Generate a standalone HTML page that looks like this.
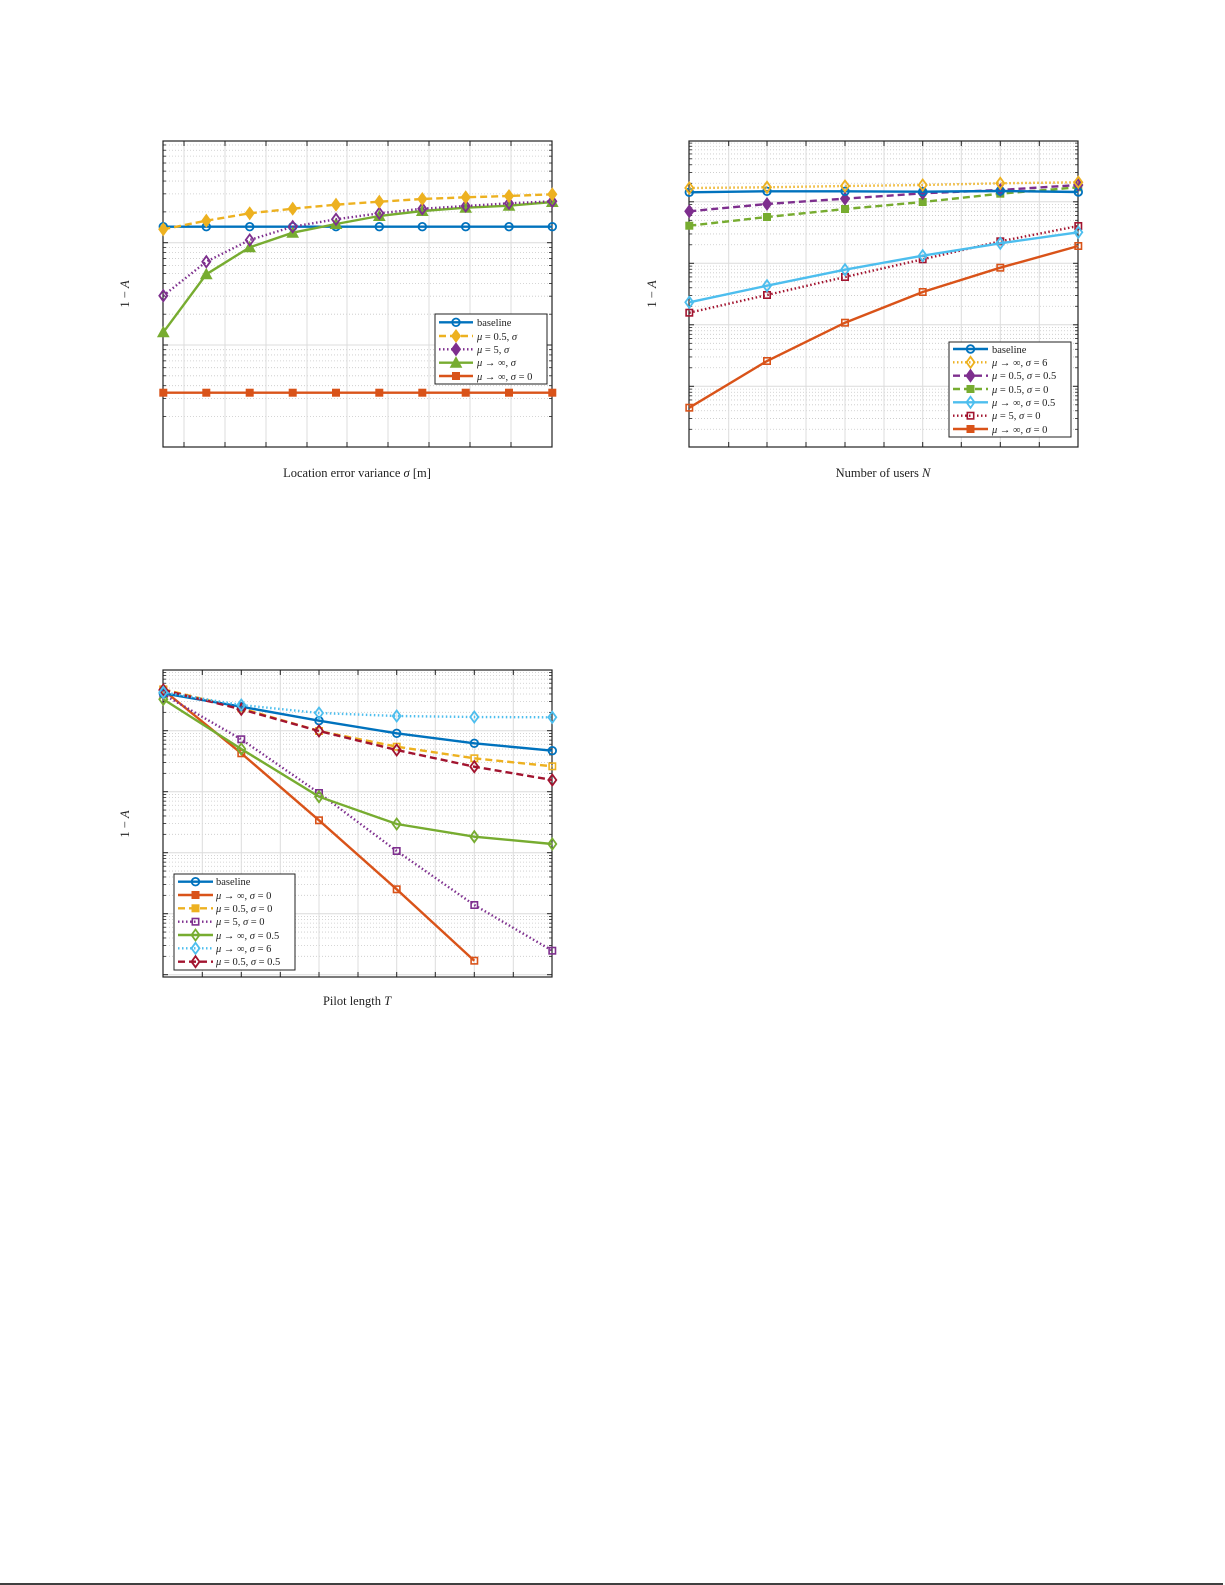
<!DOCTYPE html>
<html><head><meta charset="utf-8"><style>
html,body{margin:0;padding:0;background:#fff;width:1225px;height:1585px;overflow:hidden}
svg{position:absolute;left:0;top:0}
text{font-family:"Liberation Serif",serif;fill:#222}
.lg{font-size:10.5px}
.ax{font-size:12.5px}
</style></head><body>
<svg id="s" width="1225" height="1585" viewBox="0 0 1225 1585">
<g id="grid"></g>
<g id="ser"></g>
<g id="leg"></g>
<line x1="0" y1="1584" x2="1223" y2="1584" stroke="#000" stroke-width="1.5"/>
<text class="ax" x="357" y="477" text-anchor="middle">Location error variance <tspan font-style="italic">σ</tspan> [m]</text>
<text class="ax" x="883" y="477" text-anchor="middle">Number of users <tspan font-style="italic">N</tspan></text>
<text class="ax" x="357" y="1005" text-anchor="middle">Pilot length <tspan font-style="italic">T</tspan></text>
<text class="ax" transform="translate(129,294) rotate(-90)" text-anchor="middle">1 − <tspan font-style="italic">A</tspan></text>
<text class="ax" transform="translate(656,294) rotate(-90)" text-anchor="middle">1 − <tspan font-style="italic">A</tspan></text>
<text class="ax" transform="translate(129,824) rotate(-90)" text-anchor="middle">1 − <tspan font-style="italic">A</tspan></text>
<text class="lg" x="477" y="326">baseline</text>
<text class="lg" x="477" y="340"><tspan font-style="italic">μ</tspan> = 0.5, <tspan font-style="italic">σ</tspan></text>
<text class="lg" x="477" y="353"><tspan font-style="italic">μ</tspan> = 5, <tspan font-style="italic">σ</tspan></text>
<text class="lg" x="477" y="366"><tspan font-style="italic">μ</tspan> → ∞, <tspan font-style="italic">σ</tspan></text>
<text class="lg" x="477" y="380"><tspan font-style="italic">μ</tspan> → ∞, <tspan font-style="italic">σ</tspan> = 0</text>

<text class="lg" x="992" y="353">baseline</text>
<text class="lg" x="992" y="366"><tspan font-style="italic">μ</tspan> → ∞, <tspan font-style="italic">σ</tspan> = 6</text>
<text class="lg" x="992" y="379"><tspan font-style="italic">μ</tspan> = 0.5, <tspan font-style="italic">σ</tspan> = 0.5</text>
<text class="lg" x="992" y="393"><tspan font-style="italic">μ</tspan> = 0.5, <tspan font-style="italic">σ</tspan> = 0</text>
<text class="lg" x="992" y="406"><tspan font-style="italic">μ</tspan> → ∞, <tspan font-style="italic">σ</tspan> = 0.5</text>
<text class="lg" x="992" y="419"><tspan font-style="italic">μ</tspan> = 5, <tspan font-style="italic">σ</tspan> = 0</text>
<text class="lg" x="992" y="433"><tspan font-style="italic">μ</tspan> → ∞, <tspan font-style="italic">σ</tspan> = 0</text>

<text class="lg" x="216" y="885">baseline</text>
<text class="lg" x="216" y="899"><tspan font-style="italic">μ</tspan> → ∞, <tspan font-style="italic">σ</tspan> = 0</text>
<text class="lg" x="216" y="912"><tspan font-style="italic">μ</tspan> = 0.5, <tspan font-style="italic">σ</tspan> = 0</text>
<text class="lg" x="216" y="925"><tspan font-style="italic">μ</tspan> = 5, <tspan font-style="italic">σ</tspan> = 0</text>
<text class="lg" x="216" y="939"><tspan font-style="italic">μ</tspan> → ∞, <tspan font-style="italic">σ</tspan> = 0.5</text>
<text class="lg" x="216" y="952"><tspan font-style="italic">μ</tspan> → ∞, <tspan font-style="italic">σ</tspan> = 6</text>
<text class="lg" x="216" y="965"><tspan font-style="italic">μ</tspan> = 0.5, <tspan font-style="italic">σ</tspan> = 0.5</text>
</svg>
<script>
const NS="http://www.w3.org/2000/svg";
const G=document.getElementById('grid'),S=document.getElementById('ser'),L=document.getElementById('leg');
function el(p,t,a){const e=document.createElementNS(NS,t);for(const k in a)e.setAttribute(k,a[k]);p.appendChild(e);return e;}
const C={b:"#0072BD",o:"#D95319",y:"#EDB120",p:"#7E2F8E",g:"#77AC30",c:"#4DBEEE",r:"#A2142F"};
function axes(x0,x1,y0,y1,vx,decs){
  el(G,'rect',{x:x0,y:y0,width:x1-x0,height:y1-y0,fill:'#fff'});
  for(let i=0;i<decs.length-1;i++){const a=decs[i],b=decs[i+1];
    for(let m=2;m<=9;m++){const y=b-(b-a)*Math.log10(m);
      if(y<y0||y>y1)continue;
      el(G,'line',{x1:x0,x2:x1,y1:y,y2:y,stroke:'#c8c8c8','stroke-width':0.8,'stroke-dasharray':'1,2'});
      el(G,'line',{x1:x0,x2:x0+3,y1:y,y2:y,stroke:'#222','stroke-width':0.8});
      el(G,'line',{x1:x1-3,x2:x1,y1:y,y2:y,stroke:'#222','stroke-width':0.8});}}
  for(const y of decs){if(y<=y0+1||y>=y1-1)continue;
    el(G,'line',{x1:x0,x2:x1,y1:y,y2:y,stroke:'#dcdcdc','stroke-width':1});
    el(G,'line',{x1:x0,x2:x0+5,y1:y,y2:y,stroke:'#222','stroke-width':1});
    el(G,'line',{x1:x1-5,x2:x1,y1:y,y2:y,stroke:'#222','stroke-width':1});}
  for(const x of vx){el(G,'line',{x1:x,x2:x,y1:y0,y2:y1,stroke:'#dcdcdc','stroke-width':1});
    el(G,'line',{x1:x,x2:x,y1:y1-5,y2:y1,stroke:'#222','stroke-width':1});
    el(G,'line',{x1:x,x2:x,y1:y0,y2:y0+5,stroke:'#222','stroke-width':1});}
  el(G,'rect',{x:x0,y:y0,width:x1-x0,height:y1-y0,fill:'none',stroke:'#222','stroke-width':1.2});
}
function mark(p,m,x,y,c,fill){
  if(m=='o')el(p,'circle',{cx:x,cy:y,r:3.8,fill:'none',stroke:c,'stroke-width':1.8});
  else if(m=='d')el(p,'polygon',{points:`${x},${y-5.5} ${x+4},${y} ${x},${y+5.5} ${x-4},${y}`,fill:fill?c:'none',stroke:c,'stroke-width':1.8});
  else if(m=='s')el(p,'rect',{x:x-3.2,y:y-3.2,width:6.4,height:6.4,fill:fill?c:'none',stroke:c,'stroke-width':1.6});
  else if(m=='t')el(p,'polygon',{points:`${x},${y-5.5} ${x+5.5},${y+4.5} ${x-5.5},${y+4.5}`,fill:c,stroke:c,'stroke-width':1});
}
const DA={'-':'', '--':'7,4', ':':'1.5,2.5'};
function series(xs,ys,c,ls,m,fill,w){
  const pts=ys.map((y,i)=>xs[i]+','+y).join(' ');
  const a={points:pts,fill:'none',stroke:c,'stroke-width':w||2.4};
  if(DA[ls])a['stroke-dasharray']=DA[ls];
  el(S,'polyline',a);
  ys.forEach((y,i)=>mark(S,m,xs[i],y,c,fill));
}
function legend(x0,y0,x1,y1,lx0,lx1,rows){
  el(L,'rect',{x:x0,y:y0,width:x1-x0,height:y1-y0,fill:'#fff',stroke:'#222','stroke-width':1});
  for(const r of rows){const a={x1:lx0,x2:lx1,y1:r[0],y2:r[0],stroke:r[1],'stroke-width':2.4};
    if(DA[r[2]])a['stroke-dasharray']=DA[r[2]];el(L,'line',a);mark(L,r[3],(lx0+lx1)/2,r[0],r[1],r[4]);}
}
axes(163,552,141,447,[184,225,266,307,347,388,429,470,511],[38,140.3,242.7,345,447.3]);
const x1=[163.3,206.3,249.7,292.7,336,379.3,422.3,465.7,509,552.3];
series(x1,Array(10).fill(392.7),C.o,'-','s',true);
series(x1,Array(10).fill(226.7),C.b,'-','o');
series(x1,[332.3,274.3,247.3,232.7,224,216,211,207.7,205.7,202],C.g,'-','t',true);
series(x1,[295.7,261.7,240,226.7,219.3,213.3,208.7,206,203.3,201.3],C.p,':','d');
series(x1,[229.3,220.7,213.3,208.7,204.7,201.7,199,197.3,196,194.3],C.y,'--','d',true);
legend(435,314,547,384,439,473,[[322.3,C.b,'-','o'],[336,C.y,'--','d',true],[349.3,C.p,':','d',true],[362.7,C.g,'-','t',true],[376,C.o,'-','s',true]]);
axes(689,1078,141,447,[728.7,767,806,845,884,922.7,961.3,1000.3,1039.3],[140.3,201.8,263.3,324.8,386.3,447.8]);
const x2=[689.3,767,845,922.7,1000.3,1078.3];
series(x2,[407.7,361,322.7,292,267.7,246],C.o,'-','s');
series(x2,[312.7,295,277,259.3,241.3,226],C.r,':','s');
series(x2,[302.3,285.7,269.7,255.7,243.3,232.3],C.c,'-','d');
series(x2,[225.7,217,209,202,193.7,187.3],C.g,'--','s',true);
series(x2,[211.3,204,198.7,193.3,190,185],C.p,'--','d',true);
series(x2,[192.3,191.3,191.3,191.7,191,192],C.b,'-','o');
series(x2,[188,187.3,186,185,183.3,182.3],C.y,':','d');
legend(949,342,1071,437,953,988,[[349,C.b,'-','o'],[362.3,C.y,':','d'],[375.7,C.p,'--','d',true],[389,C.g,'--','s',true],[402.3,C.c,'-','d'],[415.7,C.r,':','s'],[429,C.o,'-','s',true]]);
axes(163,552,670,977,[202.3,241.3,280.3,319,358,396.7,435.3,474.3,513.3],[669.7,730.7,791.7,852.7,913.7,974.7,1035.7]);
const x3=[163.3,241.3,319,396.7,474.3,552.3];
series(x3.slice(0,5),[690,753.3,820.3,889.3,960.7],C.o,'-','s');
series(x3,[694.3,739.3,793,851,905,950.7],C.p,':','s');
series(x3,[699.3,749,796.7,824,836.7,844],C.g,'-','d');
series(x3,[689.3,708.3,731,746.7,758.3,766.3],C.y,'--','s');
series(x3,[693.3,706.7,720.7,733.3,743.3,750.7],C.b,'-','o');
series(x3,[690,709.3,731,750,766.7,780],C.r,'--','d');
series(x3,[692.3,705,713,716,717,717.3],C.c,':','d');
legend(174,874,295,970,178,213,[[881.7,C.b,'-','o'],[895,C.o,'-','s',true],[908.3,C.y,'--','s',true],[921.7,C.p,':','s'],[935,C.g,'-','d'],[948.3,C.c,':','d'],[961.7,C.r,'--','d']]);
</script>
</body></html>
